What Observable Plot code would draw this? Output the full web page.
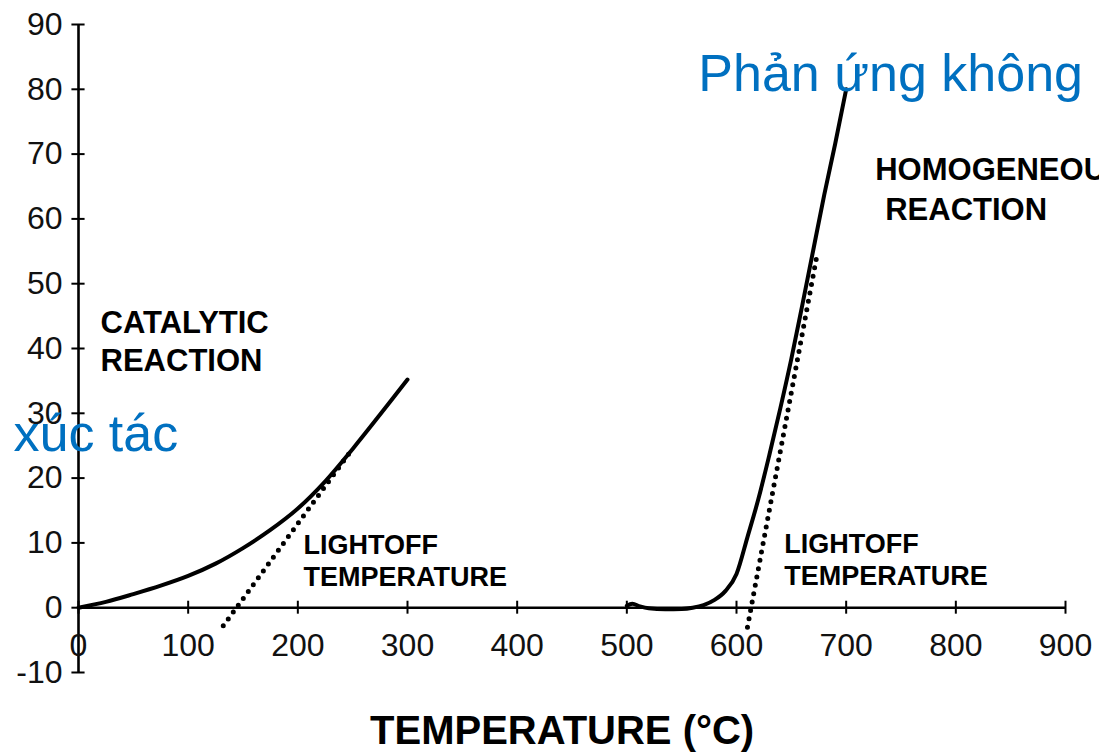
<!DOCTYPE html>
<html>
<head>
<meta charset="utf-8">
<script src="https://cdn.jsdelivr.net/npm/d3@7"></script>
<script src="https://cdn.jsdelivr.net/npm/@observablehq/plot@0.6"></script>
<style>
  html, body { margin: 0; padding: 0; background: #fff; overflow: hidden; }
  #chart { width: 1099px; height: 753px; overflow: hidden; }
</style>
</head>
<body>
<div id="chart"></div>
<script>
// Tick values
const xTicks = [0, 100, 200, 300, 400, 500, 600, 700, 800, 900];
const yTicks = [-10, 0, 10, 20, 30, 40, 50, 60, 70, 80, 90];

// Catalytic reaction curve (temperature °C, conversion)
const catTemp = [0, 25, 50, 75, 100, 125, 150, 175, 200, 225, 250, 275, 300];
const catConv = [0, 0.9, 2.1, 3.4, 4.9, 6.8, 9.2, 12, 15.3, 19.5, 24.5, 29.8, 35.2];

// Catalytic lightoff tangent (dotted)
const catTanTemp = [132, 248];
const catTanConv = [-2.8, 24.1];

// Homogeneous reaction curve
const homTemp = [500, 505, 512, 520, 535, 550, 560, 570, 580, 590, 600, 610, 620, 630, 640, 650, 660, 670, 680, 690, 700];
const homConv = [0.3, 0.6, 0.2, -0.1, -0.25, -0.2, 0, 0.4, 1.2, 2.6, 5.2, 10.9, 16.8, 23.6, 30.8, 38.4, 46.7, 55.2, 63.7, 71.6, 80];

// Homogeneous lightoff tangent (dotted)
const homTanTemp = [610, 673.5];
const homTanConv = [-3, 54.5];

const toRows = (xs, ys) => xs.map((x, i) => ({x, y: ys[i]}));

const FONT = "'Liberation Sans', Arial, Helvetica, sans-serif";
const BLUE = "#0070C0";

const plot = Plot.plot({
  width: 1099,
  height: 753,
  marginLeft: 78,
  marginRight: 34,
  marginTop: 24,
  marginBottom: 81,
  style: {fontFamily: FONT, background: "#fff", overflow: "hidden"},
  x: {domain: [0, 900], axis: null},
  y: {domain: [-10, 90], axis: null},
  marks: [
    // axes lines
    Plot.ruleX([0], {y1: -10, y2: 90, stroke: "#000", strokeWidth: 2.6}),
    Plot.ruleY([0], {x1: 0, x2: 900, stroke: "#000", strokeWidth: 2.6}),
    // crossing ticks
    Plot.ruleY(yTicks, {y: d => d, x1: -6, x2: 6, stroke: "#000", strokeWidth: 2}),
    Plot.ruleX(xTicks, {x: d => d, y1: -1, y2: 1, stroke: "#000", strokeWidth: 2}),
    // tick labels
    Plot.text(yTicks, {x: 0, y: d => d, text: d => String(d), dx: -16, textAnchor: "end", fontSize: 32, fill: "#111"}),
    Plot.text(xTicks, {x: d => d, y: 0, text: d => String(d), dy: 38, fontSize: 32, fill: "#111"}),
    // axis title
    Plot.text(["TEMPERATURE (°C)"], {x: 441, y: -21.1, text: d => d, lineAnchor: "bottom", fontSize: 40, fontWeight: "bold", fill: "#000"}),
    // tangents (dotted)
    Plot.line(toRows(catTanTemp, catTanConv), {x: "x", y: "y", stroke: "#000", strokeWidth: 5, strokeDasharray: "0 8.5", strokeLinecap: "round"}),
    Plot.line(toRows(homTanTemp, homTanConv), {x: "x", y: "y", stroke: "#000", strokeWidth: 5, strokeDasharray: "0 8.5", strokeLinecap: "round"}),
    // curves
    Plot.line(toRows(catTemp, catConv), {x: "x", y: "y", stroke: "#000", strokeWidth: 4, curve: "catmull-rom"}),
    Plot.line(toRows(homTemp, homConv), {x: "x", y: "y", stroke: "#000", strokeWidth: 4, curve: "monotone-x"}),
    // annotations
    Plot.text(["CATALYTIC\nREACTION"], {x: 20.1, y: 36.6, text: d => d, textAnchor: "start", lineAnchor: "bottom", lineHeight: 1.226, fontSize: 31, fontWeight: "bold", fill: "#000"}),
    Plot.text(["LIGHTOFF\nTEMPERATURE"], {x: 205.1, y: 3.35, text: d => d, textAnchor: "start", lineAnchor: "bottom", lineHeight: 1.19, fontSize: 27, fontWeight: "bold", fill: "#000"}),
    Plot.text(["LIGHTOFF\nTEMPERATURE"], {x: 643.6, y: 3.5, text: d => d, textAnchor: "start", lineAnchor: "bottom", lineHeight: 1.19, fontSize: 27, fontWeight: "bold", fill: "#000"}),
    Plot.text(["HOMOGENEOUS"], {x: 726.5, y: 65.95, text: d => d, textAnchor: "start", lineAnchor: "bottom", fontSize: 31, fontWeight: "bold", fill: "#000"}),
    Plot.text(["REACTION"], {x: 735.6, y: 59.8, text: d => d, textAnchor: "start", lineAnchor: "bottom", fontSize: 31, fontWeight: "bold", fill: "#000"}),
    // blue overlay labels
    Plot.text(["xúc tác"], {x: -59.3, y: 24.2, text: d => d, textAnchor: "start", lineAnchor: "bottom", fontSize: 52, fill: BLUE}),
    Plot.text(["Phản ứng không"], {x: 565.2, y: 79.7, text: d => d, textAnchor: "start", lineAnchor: "bottom", fontSize: 52, fill: BLUE})
  ]
});
document.getElementById("chart").appendChild(plot);
</script>
</body>
</html>
